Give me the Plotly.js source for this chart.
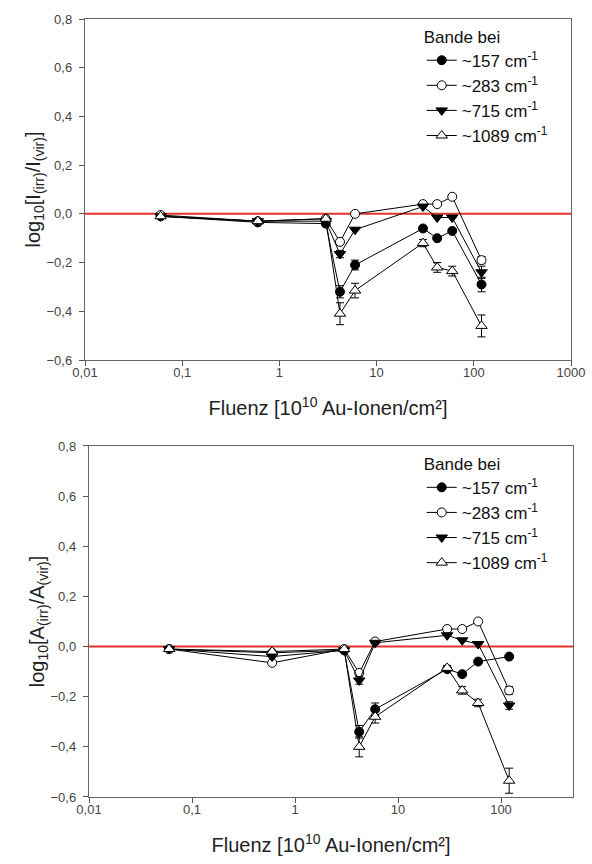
<!DOCTYPE html>
<html><head><meta charset="utf-8">
<script src="https://cdn.plot.ly/plotly-3.0.1.min.js"></script>
<style>html,body{margin:0;padding:0;background:#fff}#c{width:592px;height:864px}</style>
</head><body><div id="c"></div>
<script>
const fluence = [0.06, 0.6, 3, 4.2, 6, 30, 42, 60, 120];
const names = ['~157 cm<sup>-1</sup>', '~283 cm<sup>-1</sup>', '~715 cm<sup>-1</sup>', '~1089 cm<sup>-1</sup>'];

// Top panel: log10[I(irr)/I(vir)]
const I157 = [-0.01, -0.035, -0.04, -0.32, -0.21, -0.06, -0.10, -0.07, -0.29];
const I157err = [null, null, null, 0.025, 0.02, null, null, null, 0.03];
const I283 = [-0.005, -0.03, -0.02, -0.115, 0.0, 0.04, 0.04, 0.07, -0.19];
const I283err = [null, null, null, 0.01, null, null, null, null, 0.015];
const I715 = [-0.01, -0.03, -0.03, -0.165, -0.065, 0.03, -0.015, -0.015, -0.24];
const I715err = [null, null, null, 0.015, null, null, null, null, 0.025];
const I1089 = [-0.01, -0.03, -0.02, -0.41, -0.315, -0.12, -0.22, -0.235, -0.46];
const I1089err = [null, null, null, 0.045, 0.03, 0.015, 0.02, 0.02, 0.045];

// Bottom panel: log10[A(irr)/A(vir)]
const A157 = [-0.01, -0.025, -0.015, -0.34, -0.25, -0.09, -0.11, -0.06, -0.04];
const A157err = [null, null, null, 0.025, 0.025, null, null, null, null];
const A283 = [-0.01, -0.065, -0.01, -0.105, 0.02, 0.07, 0.07, 0.10, -0.175];
const A283err = [null, null, null, null, null, null, null, null, 0.015];
const A715 = [-0.01, -0.04, -0.015, -0.135, 0.015, 0.045, 0.025, 0.01, -0.235];
const A715err = [null, null, null, 0.015, null, null, null, null, 0.015];
const A1089 = [-0.01, -0.02, -0.01, -0.40, -0.28, -0.085, -0.175, -0.225, -0.535];
const A1089err = [null, null, null, 0.04, 0.025, 0.01, 0.015, 0.015, 0.05];

const xTickVals = [0.01, 0.1, 1, 10, 100, 1000];
const xTickText = ['0,01', '0,1', '1', '10', '100', '1000'];

const markerStyles = [
  {symbol: 'circle', color: '#000', line: {color: '#000', width: 1}, size: 9},
  {symbol: 'circle', color: '#fff', line: {color: '#000', width: 1}, size: 9},
  {symbol: 'triangle-down', color: '#000', line: {color: '#000', width: 1}, size: 10},
  {symbol: 'triangle-up', color: '#fff', line: {color: '#000', width: 1}, size: 10}
];

function mk(y, err, i, xa, ya, leg) {
  return {
    x: fluence, y: y, type: 'scatter', mode: 'lines+markers',
    name: names[i], xaxis: xa, yaxis: ya, legend: leg,
    line: {color: '#000', width: 1},
    marker: markerStyles[i],
    error_y: {type: 'data', array: err, visible: true, color: '#000', thickness: 1, width: 4}
  };
}

const topSets = [[I157, I157err], [I283, I283err], [I715, I715err], [I1089, I1089err]];
const botSets = [[A157, A157err], [A283, A283err], [A715, A715err], [A1089, A1089err]];
const data = [];
topSets.forEach((s, i) => data.push(mk(s[0], s[1], i, 'x', 'y', 'legend')));
botSets.forEach((s, i) => data.push(mk(s[0], s[1], i, 'x2', 'y2', 'legend2')));

const axFont = {family: 'Liberation Sans, Arial, sans-serif', size: 13, color: '#444'};
const titleFont = {family: 'Liberation Sans, Arial, sans-serif', size: 20, color: '#222'};
const xTitle = 'Fluenz [10<sup>10</sup> Au-Ionen/cm²]';

function xAxis(domain, range, anchor) {
  return {
    type: 'log', domain: domain, range: range, anchor: anchor,
    tickvals: xTickVals, ticktext: xTickText, ticks: 'outside', ticklen: 5, tickcolor: '#555',
    ticklabelstandoff: -5,
    showline: true, linecolor: '#666', linewidth: 1.2, mirror: true, showgrid: false, zeroline: false,
    tickfont: axFont, title: {text: xTitle, font: titleFont, standoff: 22}
  };
}
function yAxis(domain, anchor, title) {
  return {
    domain: domain, anchor: anchor, range: [-0.6, 0.8], tickvals: [-0.6, -0.4, -0.2, 0, 0.2, 0.4, 0.6, 0.8],
    tickformat: '.1f', ticks: 'outside', ticklen: 5, tickcolor: '#555',
    ticklabelstandoff: 4,
    showline: true, linecolor: '#666', linewidth: 1.2, mirror: true, showgrid: false, zeroline: false,
    tickfont: axFont, title: {text: title, font: titleFont, standoff: 0}
  };
}

const legFont = {family: 'Liberation Sans, Arial, sans-serif', size: 17, color: '#111'};
const layout = {
  width: 592, height: 864,
  margin: {l: 85, r: 19, t: 19, b: 67},
  paper_bgcolor: '#fff', plot_bgcolor: '#fff',
  separators: ',.',
  showlegend: true,
  xaxis: xAxis([0, 0.9959], [-2, 3], 'y'),
  yaxis: yAxis([0.5617, 1], 'x', 'log<sub>10</sub>[I<sub>(irr)</sub>/I<sub>(vir)</sub>]'),
  xaxis2: xAxis([0.0082, 1], [-2, Math.log10(500)], 'y2'),
  yaxis2: yAxis([0, 0.4512], 'x2', 'log<sub>10</sub>[A<sub>(irr)</sub>/A<sub>(vir)</sub>]'),
  legend: {x: 0.69, y: 0.998, xanchor: 'left', yanchor: 'top', bgcolor: 'rgba(0,0,0,0)',
    font: legFont, title: {text: 'Bande bei', font: legFont}, tracegroupgap: 0},
  legend2: {x: 0.69, y: 0.449, xanchor: 'left', yanchor: 'top', bgcolor: 'rgba(0,0,0,0)',
    font: legFont, title: {text: 'Bande bei', font: legFont}, tracegroupgap: 0},
  shapes: [
    {type: 'line', xref: 'x domain', yref: 'y', x0: 0, x1: 1, y0: 0, y1: 0, line: {color: '#e5332a', width: 2}, layer: 'below'},
    {type: 'line', xref: 'x2 domain', yref: 'y2', x0: 0, x1: 1, y0: 0, y1: 0, line: {color: '#e5332a', width: 2}, layer: 'below'}
  ]
};

Plotly.newPlot('c', data, layout, {staticPlot: true});
</script></body></html>
